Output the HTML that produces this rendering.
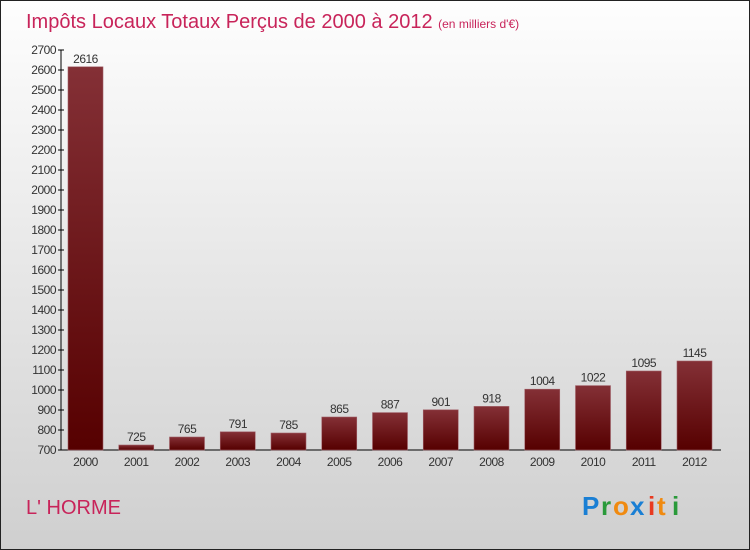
<!DOCTYPE html>
<html><head><meta charset="utf-8"><style>
body{margin:0;width:750px;height:550px;overflow:hidden}
svg{display:block;font-family:"Liberation Sans",sans-serif}
</style></head><body>
<svg width="750" height="550" viewBox="0 0 750 550">
<defs>
<linearGradient id="bg" x1="0" y1="0" x2="0" y2="1"><stop offset="0" stop-color="#fefefe"/><stop offset="1" stop-color="#cfcfcf"/></linearGradient>
<linearGradient id="bar" x1="0" y1="0" x2="0" y2="1"><stop offset="0" stop-color="#843036"/><stop offset="1" stop-color="#560000"/></linearGradient>
</defs>
<rect x="0.5" y="0.5" width="749" height="549" fill="url(#bg)" stroke="#222"/>
<text x="26" y="28" font-size="20" fill="#c8245a">Impôts Locaux Totaux Perçus de 2000 à 2012 <tspan font-size="12">(en milliers d'€)</tspan></text>
<g id="axes"></g>
<g id="bars"></g>
<text x="26" y="514" font-size="20" fill="#c8245a">L' HORME</text>
<g font-size="26" font-weight="bold">
<text x="582" y="515" fill="#1a7fd4">P</text><text x="601" y="515" fill="#2a9a3a">r</text><text x="613" y="515" fill="#f08a10">o</text><text x="630" y="515" fill="#1a7fd4">x</text><text x="648" y="515" fill="#e83a20">i</text><text x="657" y="515" fill="#f08a10">t</text><text x="672" y="515" fill="#2a9a3a">i</text>
</g>
</svg>
<script>
const years=["2000","2001","2002","2003","2004","2005","2006","2007","2008","2009","2010","2011","2012"];
const values=[2616,725,765,791,785,865,887,901,918,1004,1022,1095,1145];
const ticks=[700,800,900,1000,1100,1200,1300,1400,1500,1600,1700,1800,1900,2000,2100,2200,2300,2400,2500,2600,2700];
const NS="http://www.w3.org/2000/svg";
const y=v=>450-(v-700)*0.2;
const x=i=>85.5+i*50.75;
function mk(t,a,p,txt){const e=document.createElementNS(NS,t);for(const k in a)e.setAttribute(k,a[k]);if(txt!==undefined)e.textContent=txt;p.appendChild(e);return e;}
const ax=document.getElementById('axes'),bs=document.getElementById('bars');
const yl=mk('line',{x1:61,y1:50,x2:61,y2:450,stroke:'#000'},ax);


const xl=mk('line',{x1:61,y1:450,x2:721,y2:450,stroke:'#000'},ax);


ticks.forEach(t=>{
 mk('line',{x1:58,x2:64,y1:y(t),y2:y(t),stroke:'#000'},ax);
 const tx=mk('text',{x:56,y:y(t)+4,'text-anchor':'end','font-size':12,fill:'#333','letter-spacing':'-0.5'},ax,t);
 
 
});
years.forEach((yr,i)=>{
 const v=values[i];
 const r=mk('rect',{x:x(i)-17.5,y:y(v),width:35,height:450-y(v),fill:'url(#bar)',stroke:'#a06068','stroke-width':0.6},bs);
 
 
 const l=mk('text',{x:x(i),y:y(v)-4,'text-anchor':'middle','font-size':12,fill:'#333','letter-spacing':'-0.5'},bs,v);
 
 
 const xt=mk('text',{x:x(i),y:466,'text-anchor':'middle','font-size':12,fill:'#333','letter-spacing':'-0.5'},bs,yr);
 
 
});
</script>
</body></html>
